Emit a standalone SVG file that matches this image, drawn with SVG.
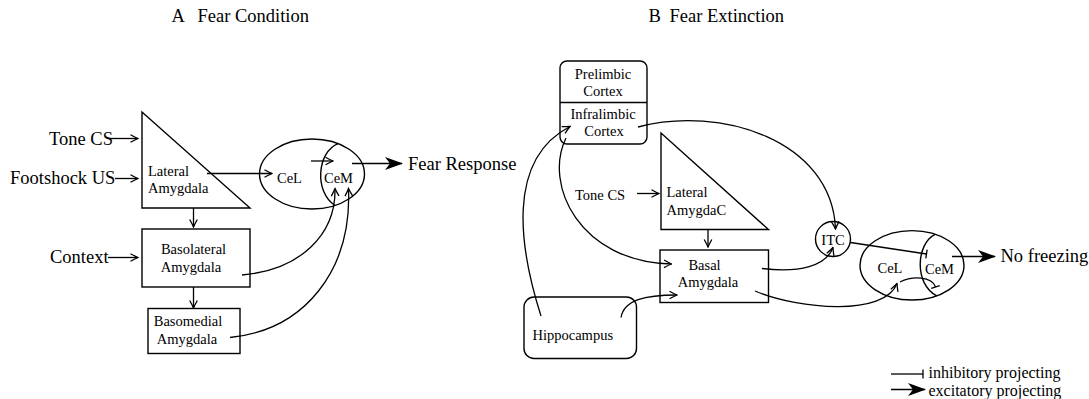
<svg xmlns="http://www.w3.org/2000/svg" width="1089" height="399" viewBox="0 0 1089 399" font-family="'Liberation Serif','Times New Roman',serif">
<defs>
<style>
text{font-family:'Liberation Serif','Times New Roman',serif;fill:#000}
.lg{font-size:18.5px}
.lgd{font-size:16px}
.sm{font-size:14.5px}
.sh{fill:none;stroke:#000;stroke-width:1.4}
.ln{fill:none;stroke:#000;stroke-width:1.3}
</style>
<marker id="ar" viewBox="-9 -5 10 10" refX="0" refY="0" markerWidth="10" markerHeight="10" markerUnits="userSpaceOnUse" orient="auto"><path d="M-7.5,-3.8 Q-2.5,-1 0,0 Q-2.5,1 -7.5,3.8" fill="none" stroke="#000" stroke-width="1.3"/></marker>
<marker id="big" viewBox="-20 -8 22 16" refX="0" refY="0" markerWidth="22" markerHeight="16" markerUnits="userSpaceOnUse" orient="auto"><path d="M1,0 L-17,-6.5 L-12,0 L-17,6.5 Z" fill="#000"/></marker>
<marker id="tb" viewBox="-2 -6 4 12" refX="0" refY="0" markerWidth="4" markerHeight="12" markerUnits="userSpaceOnUse" orient="auto"><path d="M0,-4.5 L0,4.5" stroke="#000" stroke-width="1.3"/></marker>
</defs>
<rect width="1089" height="399" fill="#fff"/>

<g id="titles">
<text class="lg" x="171.5" y="22">A</text>
<text class="lg" x="197.5" y="22">Fear Condition</text>
<text class="lg" x="648.5" y="22">B</text>
<text class="lg" x="669.5" y="22">Fear Extinction</text>
</g>

<!-- Panel A -->
<g id="toneA"><text class="lg" x="49" y="145">Tone CS</text></g>
<g id="footshock"><text class="lg" x="10" y="184">Footshock US</text></g>
<g id="context"><text class="lg" x="50" y="263">Context</text></g>
<g id="lateralA">
<path class="sh" d="M142,112 L142,208 L250,208 Z"/>
<text class="sm" x="148" y="176">Lateral</text>
<text class="sm" x="148" y="192.5">Amygdala</text>
</g>
<g id="basolateral">
<rect class="sh" x="142" y="229" width="108" height="58"/>
<text class="sm" x="193.5" y="254" text-anchor="middle">Basolateral</text>
<text class="sm" x="191" y="271.5" text-anchor="middle">Amygdala</text>
</g>
<g id="basomedial">
<rect class="sh" x="148" y="308.5" width="92" height="45"/>
<text class="sm" x="188" y="326" text-anchor="middle">Basomedial</text>
<text class="sm" x="187" y="343.5" text-anchor="middle">Amygdala</text>
</g>
<g id="centralA">
<ellipse class="sh" cx="312" cy="174" rx="52.5" ry="35"/>
<path class="sh" d="M338,143.6 C317,152 314,192 335,205.5"/>
<text class="sm" x="277" y="182.5">CeL</text>
<text class="sm" x="324" y="183">CeM</text>
</g>
<g id="fearResponse"><text class="lg" x="408" y="170">Fear Response</text></g>

<!-- Panel B -->
<g id="cortex">
<rect class="sh" x="560" y="61" width="87" height="83" rx="7"/>
<path class="sh" d="M560,102.5 L647,102.5"/>
<text class="sm" x="603" y="78.5" text-anchor="middle">Prelimbic</text>
<text class="sm" x="603" y="96" text-anchor="middle">Cortex</text>
<text class="sm" x="603" y="118.5" text-anchor="middle">Infralimbic</text>
<text class="sm" x="604" y="136" text-anchor="middle">Cortex</text>
</g>
<g id="toneB"><text class="sm" x="575" y="200">Tone CS</text></g>
<g id="lateralB">
<path class="sh" d="M661,133 L661,229.5 L768.5,229.5 Z"/>
<text class="sm" x="666.5" y="197">Lateral</text>
<text class="sm" x="666.5" y="214.5">AmygdaC</text>
</g>
<g id="basal">
<rect class="sh" x="660" y="250" width="108.5" height="52.5"/>
<text class="sm" x="704.5" y="269.5" text-anchor="middle">Basal</text>
<text class="sm" x="708" y="287" text-anchor="middle">Amygdala</text>
</g>
<g id="hippocampus">
<rect class="sh" x="524" y="297" width="112.5" height="61.5" rx="10"/>
<text class="sm" x="532.5" y="340">Hippocampus</text>
</g>
<g id="itc">
<circle class="sh" cx="833" cy="239" r="17.5"/>
<text class="sm" x="833" y="245" text-anchor="middle">ITC</text>
</g>
<g id="centralB">
<ellipse class="sh" cx="912" cy="265.3" rx="52" ry="34.7"/>
<path class="sh" d="M935,234.3 C916,244 914,284 936.7,295.8"/>
<text class="sm" x="877.5" y="273">CeL</text>
<text class="sm" x="925" y="274">CeM</text>
</g>
<g id="noFreezing"><text class="lg" x="1000.5" y="262">No freezing</text></g>

<g id="legend">
<path class="ln" d="M891,374 L923,374" marker-end="url(#tb)"/>
<text class="lgd" x="928.5" y="378">inhibitory projecting</text>
<path class="ln" d="M891,389.5 L925,389.5" marker-end="url(#big)"/>
<text class="lgd" x="928.5" y="395.5">excitatory projecting</text>
</g>

<g id="connectors">
<!-- A -->
<path class="ln" d="M110,138.5 L138,138.5" marker-end="url(#ar)"/>
<path class="ln" d="M115,178.5 L138,178.5" marker-end="url(#ar)"/>
<path class="ln" d="M108,257.5 L138,257.5" marker-end="url(#ar)"/>
<path class="ln" d="M207,173.5 L272,173.5" marker-end="url(#ar)"/>
<path class="ln" d="M193.5,208 L193.5,227" marker-end="url(#ar)"/>
<path class="ln" d="M193.5,287 L193.5,308" marker-end="url(#ar)"/>
<path class="ln" d="M311,161 L333,161" marker-end="url(#ar)"/>
<path class="ln" d="M242,275 C300,270 336,235 335,188.5" marker-end="url(#ar)"/>
<path class="ln" d="M230,337.5 C305,330 352,270 348.5,188.5" marker-end="url(#ar)"/>
<path class="ln" d="M352,163.5 L402,163.5" marker-end="url(#big)"/>
<!-- B -->
<path class="ln" d="M637,193.5 L659,193.5" marker-end="url(#ar)"/>
<path class="ln" d="M708,229.5 L708,247" marker-end="url(#ar)"/>
<path class="ln" d="M541,316 C520,250 505,160 570,126.5" marker-end="url(#ar)"/>
<path class="ln" d="M566,138 C543,185 580,262 671.5,264" marker-end="url(#ar)"/>
<path class="ln" d="M621,317.5 C624,300 645,295 677,295" marker-end="url(#ar)"/>
<path class="ln" d="M638,127 C720,105 832,140 835.5,229" marker-end="url(#ar)"/>
<path class="ln" d="M762,268.5 C800,273 826,266 833,247.5" marker-end="url(#ar)"/>
<path class="ln" d="M755,291 C800,310 885,316 897,283.5" marker-end="url(#ar)"/>
<path class="ln" d="M850.5,242.5 L926.5,254" marker-end="url(#tb)"/>
<path class="ln" d="M900,282 C912,276 932,276 935.5,287" marker-end="url(#tb)"/>
<path class="ln" d="M952,256.5 L995,256.5" marker-end="url(#big)"/>
</g>
</svg>
